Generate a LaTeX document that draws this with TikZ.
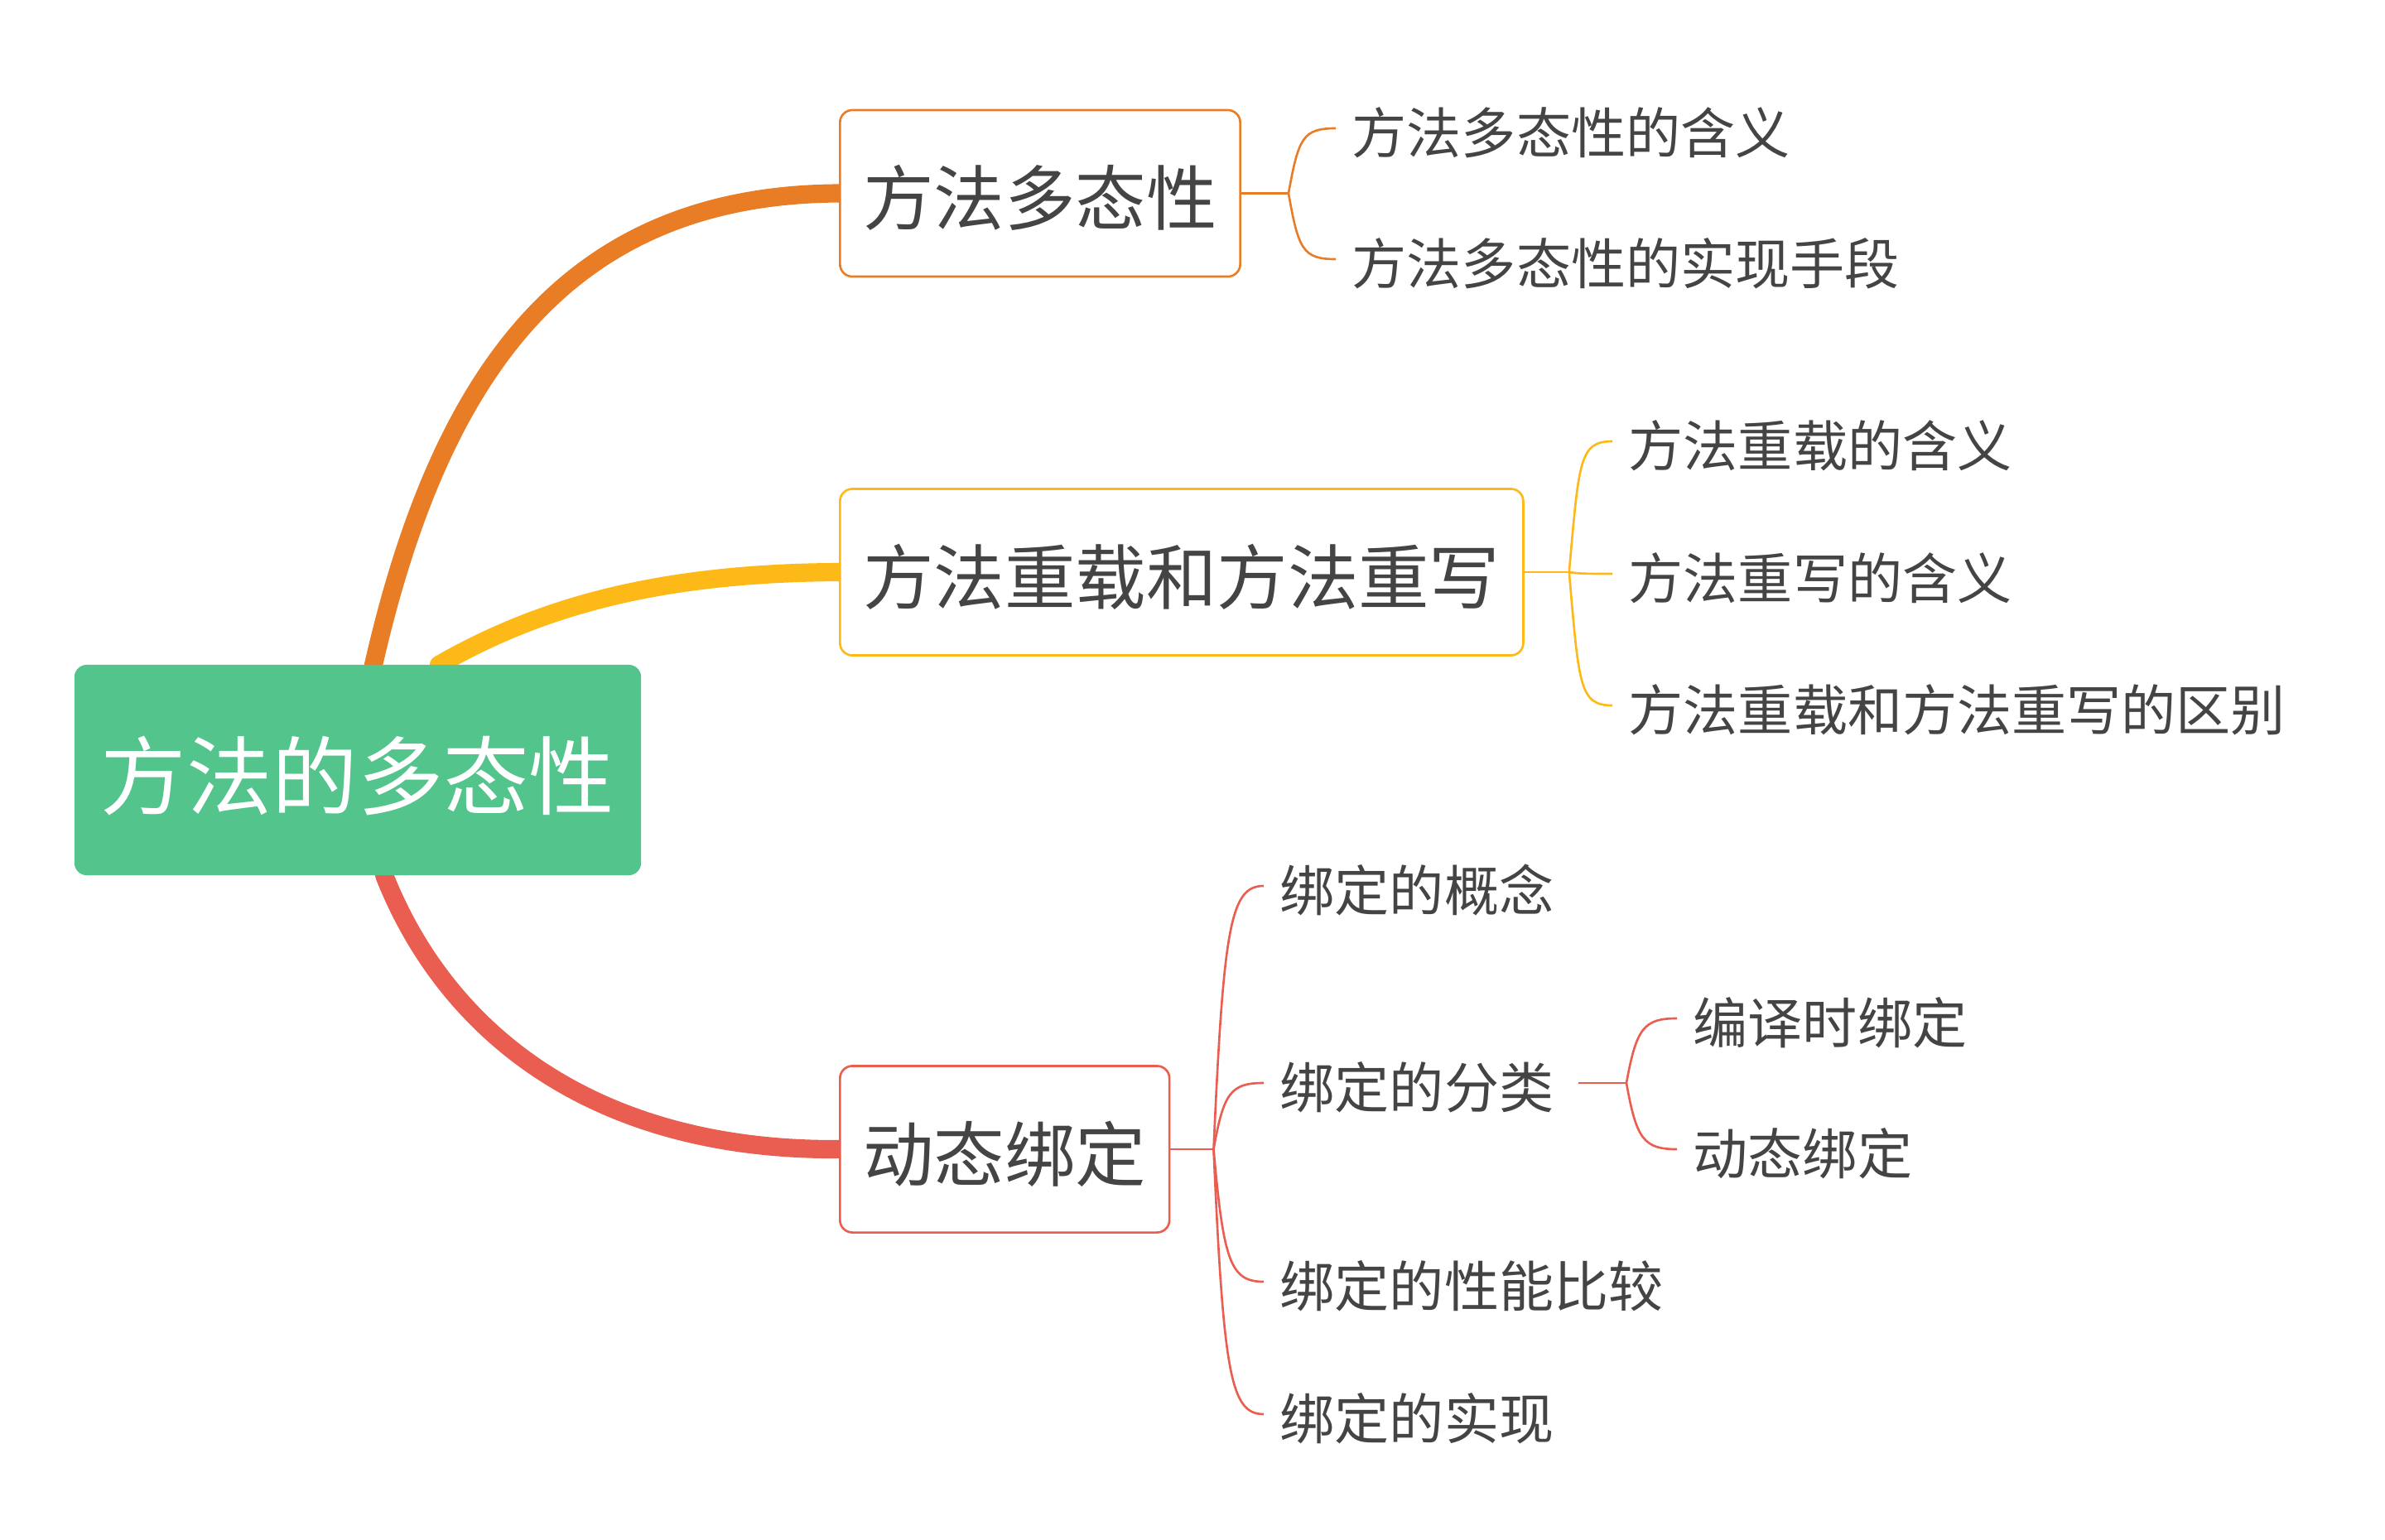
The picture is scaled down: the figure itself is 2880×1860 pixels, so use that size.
\documentclass[tikz,border=0pt]{standalone}
\usepackage{fontspec}
\newfontfamily\cjk{Noto Sans CJK SC}
\usetikzlibrary{calc,backgrounds}

\definecolor{rootgreen}{HTML}{52C48C}
\definecolor{brorange}{HTML}{E87D26}
\definecolor{bryellow}{HTML}{FDB917}
\definecolor{brred}{HTML}{E95E50}
\definecolor{txtgray}{HTML}{444444}

\tikzset{
  rootbox/.style={fill=rootgreen, rounded corners=0.15cm, text=white,
    font=\cjk\fontsize{29.4pt}{36pt}\selectfont, inner xsep=0.32cm,
    text height=28.7pt, text depth=2.4pt, minimum height=2.54cm},
  topicbox/.style={draw=#1, fill=white, line width=0.75pt, rounded corners=0.15cm,
    text=txtgray, font=\cjk\fontsize{24.3pt}{30pt}\selectfont,
    text height=23.6pt, text depth=1.9pt,
    inner xsep=0.28cm, minimum height=2.01cm, anchor=west},
  leaf/.style={text=txtgray, font=\cjk\fontsize{18.8pt}{24pt}\selectfont,
    text height=18.6pt, text depth=1.5pt, inner xsep=0.19cm, anchor=west},
  trunk/.style={draw=#1, line width=6.3pt, line cap=round},
  twigline/.style={draw=#1, line width=0.75pt},
}

% curved twig from a junction to a leaf
\newcommand{\twig}[3]{%
  \draw[twigline=#1] (#2) .. controls ($(#2)!0.85!(#2|-#3.west)+(12,0)$)
    and ($(#3.west)+(-40,0)$) .. (#3.west);}

\begin{document}
\begin{tikzpicture}[x=0.01cm, y=-0.01cm]
  \useasboundingbox (0,0) rectangle (2880,1860);

  % Root
  \node[rootbox] (root) at (432,930) {方法的多态性};

  % Main topics
  \node[topicbox=brorange] (poly) at (1013,233.5) {方法多态性};
  \node[topicbox=bryellow] (overload) at (1013,691) {方法重载和方法重写};
  \node[topicbox=brred] (binding) at (1013,1388) {动态绑定};

  % Thick branches
  \begin{scope}[on background layer]
    \coordinate (o1) at (451,803);
    \coordinate (o2) at (530,803);
    \coordinate (o3) at (464,1057);
    \draw[trunk=brorange] (o1) .. controls (531,453) and (683,235) .. (poly.west);
    \draw[trunk=bryellow] (o2) .. controls (640,740) and (780,692) .. (overload.west);
    \draw[trunk=brred] (o3) .. controls (540,1250) and (720,1390) .. (binding.west);
  \end{scope}

  % Leaves of poly
  \coordinate (j1) at ($(poly.east)+(57,0)$);
  \node[leaf] (p1) at (1613,155) {方法多态性的含义};
  \node[leaf] (p2) at (1613,313) {方法多态性的实现手段};
  \draw[twigline=brorange] (poly.east) -- (j1);
  \twig{brorange}{j1}{p1}
  \twig{brorange}{j1}{p2}

  % Leaves of overload
  \coordinate (j2) at ($(overload.east)+(54,0)$);
  \node[leaf] (o1) at (1947,533) {方法重载的含义};
  \node[leaf] (o2) at (1947,693) {方法重写的含义};
  \node[leaf] (o3) at (1947,852) {方法重载和方法重写的区别};
  \draw[twigline=bryellow] (overload.east) -- (j2);
  \twig{bryellow}{j2}{o1}
  \twig{bryellow}{j2}{o2}
  \twig{bryellow}{j2}{o3}

  % Leaves of binding
  \coordinate (j3) at ($(binding.east)+(52,0)$);
  \node[leaf] (b1) at (1526,1070) {绑定的概念};
  \node[leaf] (b2) at (1526,1308) {绑定的分类};
  \node[leaf] (b3) at (1526,1548) {绑定的性能比较};
  \node[leaf] (b4) at (1526,1708) {绑定的实现};
  \draw[twigline=brred] (binding.east) -- (j3);
  \twig{brred}{j3}{b1}
  \twig{brred}{j3}{b2}
  \twig{brred}{j3}{b3}
  \twig{brred}{j3}{b4}

  % Kinds of binding
  \coordinate (s4) at ($(b2.east)+(10,0)$);
  \coordinate (j4) at ($(s4)+(58,0)$);
  \node[leaf] (k1) at (2025,1230) {编译时绑定};
  \node[leaf] (k2) at (2025,1388) {动态绑定};
  \draw[twigline=brred] (s4) -- (j4);
  \twig{brred}{j4}{k1}
  \twig{brred}{j4}{k2}
\end{tikzpicture}
\end{document}
